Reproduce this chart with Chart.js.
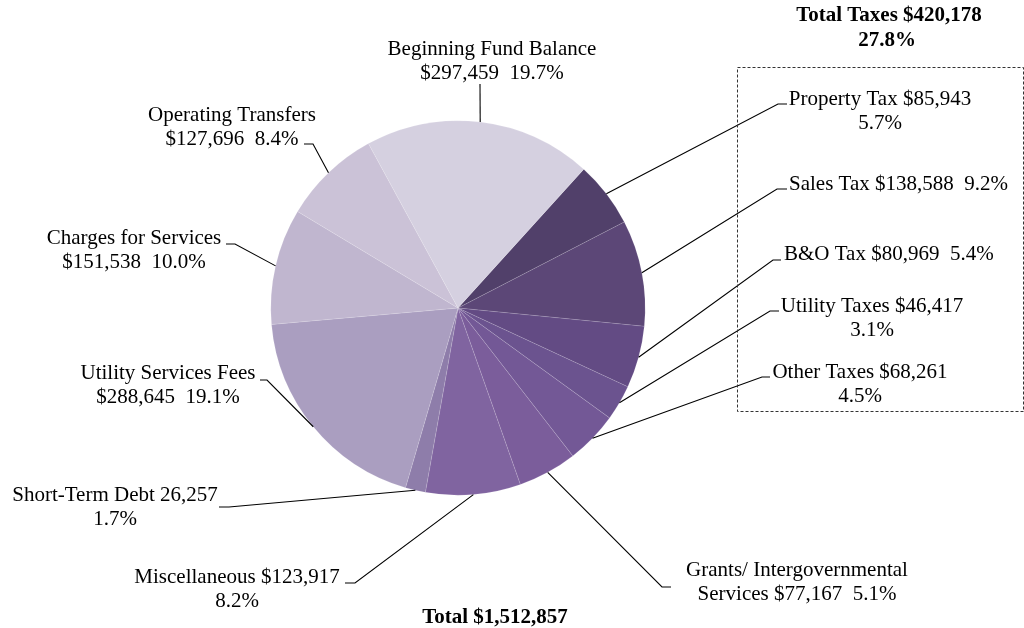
<!DOCTYPE html>
<html>
<head>
<meta charset="utf-8">
<script src="https://cdn.jsdelivr.net/npm/chart.js"></script>
<style>
  html, body { margin: 0; padding: 0; background: #fff; }
  #revenueChart { display: block; }
</style>
</head>
<body>
<canvas id="revenueChart" width="1024" height="628"></canvas>
<script>
// Data
const categories = [
    "Property Tax", "Sales Tax", "B&O Tax", "Utility Taxes", "Other Taxes",
    "Grants/ Intergovernmental Services", "Miscellaneous", "Short-Term Debt",
    "Utility Services Fees", "Charges for Services", "Operating Transfers",
    "Beginning Fund Balance"
];
const amounts = [85943, 138588, 80969, 46417, 68261, 77167, 123917, 26257, 288645, 151538, 127696, 297459];
const percents = [5.7, 9.2, 5.4, 3.1, 4.5, 5.1, 8.2, 1.7, 19.1, 10.0, 8.4, 19.7];
const taxCount = 5; // first five slices are taxes

// label text, one entry per slice (line breaks as in the original)
const labelLines = [
    ["Property Tax $85,943", "5.7%"],
    ["Sales Tax $138,588  9.2%"],
    ["B&O Tax $80,969  5.4%"],
    ["Utility Taxes $46,417", "3.1%"],
    ["Other Taxes $68,261", "4.5%"],
    ["Grants/ Intergovernmental", "Services $77,167  5.1%"],
    ["Miscellaneous $123,917", "8.2%"],
    ["Short-Term Debt 26,257", "1.7%"],
    ["Utility Services Fees", "$288,645  19.1%"],
    ["Charges for Services", "$151,538  10.0%"],
    ["Operating Transfers", "$127,696  8.4%"],
    ["Beginning Fund Balance", "$297,459  19.7%"]
];

const sliceColors = [
    "#51406a", "#5c4777", "#634b84", "#6b538f", "#735896", "#7b5d9b",
    "#8064a0", "#8e7daa", "#aa9ec0", "#c0b6cf", "#cbc2d7", "#d5d0e0"
];

// label placement (text anchor + leader elbow) - layout only
const labelLayout = [
    { x: 880, y: 105, align: "center", ex: 778, ey: 104, hx: 787 },
    { x: 789, y: 190, align: "left",   ex: 777, ey: 189, hx: 787 },
    { x: 784, y: 260, align: "left",   ex: 773, ey: 260, hx: 781 },
    { x: 872, y: 312, align: "center", ex: 770, ey: 311, hx: 779 },
    { x: 860, y: 378, align: "center", ex: 762, ey: 377, hx: 770 },
    { x: 797, y: 576, align: "center", ex: 662, ey: 587, hx: 671 },
    { x: 237, y: 583, align: "center", ex: 355, ey: 583, hx: 345 },
    { x: 115, y: 501, align: "center", ex: 229, ey: 507, hx: 219 },
    { x: 168, y: 379, align: "center", ex: 267, ey: 380, hx: 260 },
    { x: 134, y: 244, align: "center", ex: 235, ey: 244, hx: 226 },
    { x: 232, y: 121, align: "center", ex: 313, ey: 144, hx: 304 },
    { x: 492, y: 55,  align: "center", ex: 480, ey: 84,  hx: 480 }
];

const LABEL_FONT = "21px 'Liberation Serif', 'Times New Roman', serif";
const BOLD_FONT = "bold 21px 'Liberation Serif', 'Times New Roman', serif";
const LINE_H = 24;

function fmt(n) {
    return n.toLocaleString("en-US");
}

// ‚úÖ Plugin: leader lines, labels, tax box and totals
const leaderLabels = {
    id: "leaderLabels",
    afterDraw(chart) {
        const ctx = chart.ctx;
        const arcs = chart.getDatasetMeta(0).data;
        ctx.save();

        // leader lines from the middle of each slice's rim
        ctx.strokeStyle = "#000";
        ctx.lineWidth = 1.1;
        arcs.forEach((arc, i) => {
            const p = arc.getProps(["x", "y", "startAngle", "endAngle", "outerRadius"], true);
            const mid = (p.startAngle + p.endAngle) / 2;
            const sx = p.x + Math.cos(mid) * p.outerRadius;
            const sy = p.y + Math.sin(mid) * p.outerRadius;
            const l = labelLayout[i];
            ctx.beginPath();
            ctx.moveTo(sx, sy);
            ctx.lineTo(l.ex, l.ey);
            ctx.lineTo(l.hx, l.ey);
            ctx.stroke();
        });

        // labels
        ctx.fillStyle = "#000";
        ctx.font = LABEL_FONT;
        ctx.textBaseline = "alphabetic";
        labelLines.forEach((lines, i) => {
            const l = labelLayout[i];
            ctx.textAlign = l.align;
            lines.forEach((t, k) => ctx.fillText(t, l.x, l.y + k * LINE_H));
        });

        // dashed box round the taxes
        ctx.lineWidth = 1;
        ctx.setLineDash([3, 2]);
        ctx.strokeStyle = "#333";
        ctx.strokeRect(737.5, 67.5, 286, 344);
        ctx.setLineDash([]);

        // totals
        const total = amounts.reduce((a, b) => a + b, 0);
        const taxTotal = amounts.slice(0, taxCount).reduce((a, b) => a + b, 0);
        ctx.font = BOLD_FONT;
        ctx.textAlign = "center";
        ctx.fillText("Total Taxes $" + fmt(taxTotal), 889, 21);
        ctx.fillText((taxTotal / total * 100).toFixed(1) + "%", 887, 46);
        ctx.fillText("Total $" + fmt(total), 495, 623);

        ctx.restore();
    }
};

const chartCanvas = document.getElementById("revenueChart").getContext("2d");
const revenueChart = new Chart(chartCanvas, {
    type: "pie",
    data: {
        labels: categories,
        datasets: [{
            data: amounts,
            backgroundColor: sliceColors,
            borderColor: "rgba(255, 255, 255, 0.22)",
            borderWidth: 0.6
        }]
    },
    options: {
        responsive: false,
        animation: false,
        rotation: 42.2,
        layout: {
            padding: { left: 270.5, right: 378.5, top: 120.5, bottom: 132.5 }
        },
        plugins: {
            legend: { display: false },
            tooltip: { enabled: false }
        }
    },
    plugins: [leaderLabels]
});
</script>
</body>
</html>
